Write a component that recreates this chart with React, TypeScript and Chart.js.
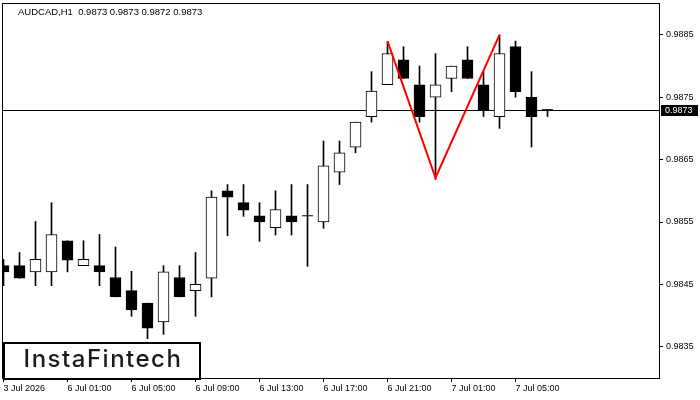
import React, { useEffect, useRef } from "react";
import { Chart, registerables } from "chart.js";

Chart.register(...registerables);

const chartTitle = "AUDCAD,H1  0.9873 0.9873 0.9872 0.9873";
const timeLabels = [
  "3 Jul 2026",
  "6 Jul 01:00",
  "6 Jul 05:00",
  "6 Jul 09:00",
  "6 Jul 13:00",
  "6 Jul 17:00",
  "6 Jul 21:00",
  "7 Jul 01:00",
  "7 Jul 05:00",
];
const labelEvery = 4;
const priceTicks = [0.9835, 0.9845, 0.9855, 0.9865, 0.9875, 0.9885];

const opens = [
  0.9848, 0.9848, 0.9847, 0.9847, 0.9852, 0.9848, 0.9848, 0.98461, 0.9844, 0.9842,
  0.9839, 0.98461, 0.9844, 0.9846, 0.986, 0.98581, 0.9856, 0.98541, 0.9856, 0.9856,
  0.9855, 0.9863, 0.9867, 0.98719, 0.9877, 0.9881, 0.9877, 0.9875, 0.9878, 0.9881,
  0.9877, 0.98719, 0.98831, 0.9875, 0.9873,
];
const highs = [
  0.9849, 0.98501, 0.98551, 0.98581, 0.9852, 0.9852, 0.9853, 0.9851, 0.98471, 0.9842,
  0.9848, 0.9848, 0.98501, 0.986, 0.9861, 0.9861, 0.98581, 0.986, 0.9861, 0.9861,
  0.9868, 0.9868, 0.9871, 0.98791, 0.98839, 0.98831, 0.988, 0.9882, 0.988, 0.98831,
  0.98791, 0.9885, 0.9884, 0.98791, 0.9873,
];
const lows = [
  0.98448, 0.9846, 0.98448, 0.98448, 0.9847, 0.9848, 0.98448, 0.9843, 0.98399, 0.98363,
  0.9837, 0.9843, 0.98399, 0.9843, 0.98528, 0.98559, 0.98519, 0.98529, 0.98529, 0.98479,
  0.9854, 0.9861, 0.98661, 0.9871, 0.9877, 0.9878, 0.9871, 0.98618, 0.98759, 0.9878,
  0.98719, 0.987, 0.9875, 0.9867, 0.98719,
];
const closes = [
  0.9847, 0.9846, 0.9849, 0.9853, 0.98489, 0.9849, 0.9847, 0.9843, 0.98409, 0.9838,
  0.9847, 0.9843, 0.9845, 0.9859, 0.9859, 0.98569, 0.9855, 0.9857, 0.9855, 0.9856,
  0.9864, 0.98661, 0.9871, 0.9876, 0.9882, 0.9878, 0.98719, 0.9877, 0.988, 0.9878,
  0.9873, 0.9882, 0.98759, 0.98719, 0.9873,
];
const currentPrice = 0.9873;
const patternIdx = [24, 27, 31];
const patternPrice = [0.9884, 0.98621, 0.9885];

export default function App() {
  const ref = useRef<HTMLCanvasElement | null>(null);

  useEffect(() => {
    document.body.style.margin = "0";
    const canvas = ref.current;
    if (!canvas) return;
    Chart.defaults.font.family = "Liberation Sans";

    const idx = opens.map((_, i) => i);
    const wickData = idx.map((i) => ({ x: i, y: [lows[i], highs[i]] }));
    const bodyData = idx
      .filter((i) => opens[i] !== closes[i])
      .map((i) => ({ x: i, y: [opens[i], closes[i]] }));
    const bodyColors = idx
      .filter((i) => opens[i] !== closes[i])
      .map((i) => (closes[i] > opens[i] ? "#ffffff" : "#000000"));
    const dojiData = idx
      .filter((i) => opens[i] === closes[i])
      .map((i) => ({ x: i, y: opens[i] }));

    const xMin = -0.094;
    const xMax = xMin + 658 / 16;

    const overlay = {
      id: "overlay",
      beforeDatasetsDraw(chart: any) {
        const ctx = chart.ctx;
        const y = chart.scales.y.getPixelForValue(currentPrice);
        const a = chart.chartArea;
        ctx.save();
        ctx.strokeStyle = "#000";
        ctx.lineWidth = 1;
        ctx.beginPath();
        ctx.moveTo(a.left, Math.round(y) + 0.5);
        ctx.lineTo(a.right, Math.round(y) + 0.5);
        ctx.stroke();
        ctx.restore();
      },
      afterDraw(chart: any) {
        const ctx = chart.ctx;
        const a = chart.chartArea;
        ctx.save();
        ctx.strokeStyle = "#000";
        ctx.lineWidth = 1;
        ctx.strokeRect(a.left + 0.5, a.top + 0.5, a.right - a.left - 1, a.bottom - a.top);
        ctx.fillStyle = "#000";
        ctx.font = "9.5px 'Liberation Sans'";
        ctx.textBaseline = "middle";
        ctx.textAlign = "left";
        ctx.fillText(chartTitle, 18, 12);
        const py = Math.round(chart.scales.y.getPixelForValue(currentPrice));
        ctx.fillStyle = "#000";
        ctx.fillRect(661, py - 5, 37, 11);
        ctx.fillStyle = "#fff";
        ctx.font = "9px 'Liberation Sans'";
        ctx.fillText(currentPrice.toFixed(4), 665, py + 0.5);
        ctx.fillStyle = "#fff";
        ctx.fillRect(4, 343, 196, 36);
        ctx.strokeStyle = "#000";
        ctx.lineWidth = 2;
        ctx.strokeRect(4, 343, 196, 36);
        ctx.fillStyle = "#1a1a1a";
        ctx.font = "500 24px Inter";
        (ctx as any).letterSpacing = "1.5px";
        ctx.textAlign = "center";
        ctx.textBaseline = "alphabetic";
        ctx.fillText("InstaFintech", 103, 367);
        ctx.restore();
      },
    };

    const chart = new Chart(canvas, {
      type: "bar",
      data: {
        datasets: [
          {
            type: "line",
            data: patternIdx.map((x, i) => ({ x, y: patternPrice[i] })),
            borderColor: "#ff0000",
            borderWidth: 2,
            pointRadius: 0,
            tension: 0,
            order: -1,
          } as any,
          {
            type: "scatter",
            data: dojiData,
            pointStyle: "line",
            pointRadius: 5.5,
            borderColor: "#000",
            borderWidth: 1,
            order: 0,
          } as any,
          {
            type: "bar",
            data: bodyData,
            backgroundColor: bodyColors,
            borderColor: "#000",
            borderWidth: 1,
            borderSkipped: false,
            barThickness: 11,
            grouped: false,
            order: 1,
          } as any,
          {
            type: "bar",
            data: wickData,
            backgroundColor: "#000",
            borderWidth: 0,
            barThickness: 1,
            grouped: false,
            order: 2,
          } as any,
        ],
      },
      options: {
        animation: false,
        responsive: false,
        events: [],
        layout: { autoPadding: false, padding: { left: 2, top: 3, right: 0, bottom: 0 } },
        plugins: { legend: { display: false }, tooltip: { enabled: false } },
        scales: {
          x: {
            type: "linear",
            offset: false,
            min: xMin,
            max: xMax,
            afterBuildTicks: (s: any) => {
              s.ticks = timeLabels.map((_, i) => ({ value: i * labelEvery }));
            },
            afterFit: (s: any) => {
              s.height = 22;
              s.paddingLeft = 0;
              s.paddingRight = 0;
            },
            grid: {
              offset: false,
              drawOnChartArea: false,
              drawTicks: true,
              tickLength: 4,
              color: "#000",
            },
            border: { display: false },
            ticks: {
              autoSkip: false,
              maxRotation: 0,
              align: "start",
              padding: 1,
              color: "#000",
              font: { size: 9, family: "Liberation Sans" },
              callback: (v: any) => timeLabels[Math.round(Number(v) / labelEvery)] ?? "",
            },
          },
          y: {
            position: "right",
            min: 0.983,
            max: 0.98901,
            afterBuildTicks: (s: any) => {
              s.ticks = priceTicks.map((v) => ({ value: v }));
            },
            afterFit: (s: any) => {
              s.width = 40;
              s.paddingTop = 0;
              s.paddingBottom = 0;
            },
            grid: {
              drawOnChartArea: false,
              drawTicks: true,
              tickLength: 3,
              color: "#000",
            },
            border: { display: false },
            ticks: {
              padding: 3,
              color: "#000",
              font: { size: 9, family: "Liberation Sans" },
              callback: (v: any) => Number(v).toFixed(4),
            },
          },
        },
      },
      plugins: [overlay],
    } as any);

    return () => chart.destroy();
  }, []);

  return <canvas ref={ref} width={700} height={400} style={{ display: "block" }} />;
}
